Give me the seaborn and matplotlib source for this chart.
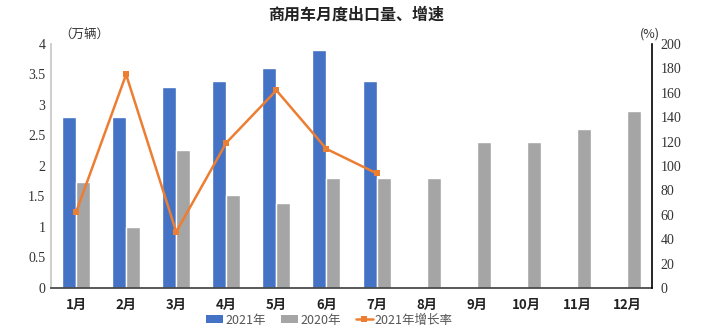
import numpy as np
import pandas as pd
import matplotlib
matplotlib.use("Agg")
import matplotlib.pyplot as plt
from matplotlib.lines import Line2D
from matplotlib.patches import Patch
import seaborn as sns

months = ["1月", "2月", "3月", "4月", "5月", "6月", "7月", "8月", "9月", "10月", "11月", "12月"]
export_2021 = [2.8, 2.8, 3.3, 3.4, 3.6, 3.9, 3.4, np.nan, np.nan, np.nan, np.nan, np.nan]
export_2020 = [1.74, 1.0, 2.26, 1.52, 1.40, 1.80, 1.80, 1.80, 2.40, 2.40, 2.60, 2.90]
growth_2021 = [62, 175, 46, 119, 162, 114, 94]
series_names = ["2021年", "2020年", "2021年增长率"]

BLUE = "#4472C4"
GRAY = "#A5A5A5"
ORANGE = "#ED7D31"

sns.set_theme(style="white")
plt.rcParams["font.family"] = ["Noto Sans CJK SC", "DejaVu Sans"]

df = pd.DataFrame({
    "month": months * 2,
    "value": export_2021 + export_2020,
    "year": [series_names[0]] * 12 + [series_names[1]] * 12,
})
df = df.dropna()

fig = plt.figure(figsize=(7.13, 3.30), dpi=100)
ax = fig.add_axes([0.0715, 0.1273, 0.843, 0.7394])

sns.barplot(data=df, x="month", y="value", hue="year", order=months,
            hue_order=series_names[:2], palette=[BLUE, GRAY],
            width=0.56, saturation=1, legend=False, ax=ax)
ax.set_xlim(-0.5, 11.5)
ax.set_ylim(0, 4)
ax.set_yticks([0, 0.5, 1, 1.5, 2, 2.5, 3, 3.5, 4])
ax.set_yticklabels(["0", "0.5", "1", "1.5", "2", "2.5", "3", "3.5", "4"],
                   family="Liberation Serif", fontsize=10, color="#333333")
ax.set_xlabel("")
ax.set_ylabel("")
ax.tick_params(axis="both", length=0, pad=4)
for lbl in ax.get_xticklabels():
    lbl.set_fontweight("bold")
    lbl.set_fontsize(9.5)
    lbl.set_color("#222222")
ax.tick_params(axis="x", pad=7)
ax.spines["top"].set_visible(False)
ax.spines["right"].set_visible(False)
ax.spines["left"].set_color("#C8C8C8")
ax.spines["bottom"].set_color("#444444")

ax2 = ax.twinx()
sns.lineplot(x=np.arange(len(growth_2021)), y=growth_2021, color=ORANGE,
             linewidth=1.8, marker="s", markersize=4.5, markeredgewidth=0, ax=ax2)
ax2.set_ylim(0, 200)
ax2.set_yticks(range(0, 201, 20))
ax2.set_yticklabels([str(v) for v in range(0, 201, 20)],
                    family="Liberation Serif", fontsize=10, color="#333333")
ax2.tick_params(axis="y", length=0, pad=6)
ax2.set_ylabel("")
ax2.spines["top"].set_visible(False)
ax2.spines["left"].set_visible(False)
ax2.spines["bottom"].set_visible(False)
ax2.spines["right"].set_color("#000000")
ax2.spines["right"].set_linewidth(1.2)

fig.text(0.5, 0.957, "商用车月度出口量、增速", ha="center", va="center",
         fontsize=11.5, fontweight="bold", color="#222222")
fig.text(0.083, 0.895, "（万辆）", ha="left", va="center", fontsize=9, color="#333333")
fig.text(0.897, 0.898, "(%)", ha="left", va="center", fontsize=9, color="#333333")

handles = [
    Patch(facecolor=BLUE, edgecolor="none"),
    Patch(facecolor=GRAY, edgecolor="none"),
    Line2D([0], [0], color=ORANGE, lw=1.8, marker="s", markersize=4.5, markeredgewidth=0),
]
fig.legend(handles, series_names, loc="center", bbox_to_anchor=(0.462, 0.03), ncol=3,
           frameon=False, fontsize=9, handlelength=1.4, handleheight=0.6,
           handletextpad=0.15, columnspacing=1.2, labelcolor="#555555")

fig.savefig("out.png", dpi=100, facecolor="white")
